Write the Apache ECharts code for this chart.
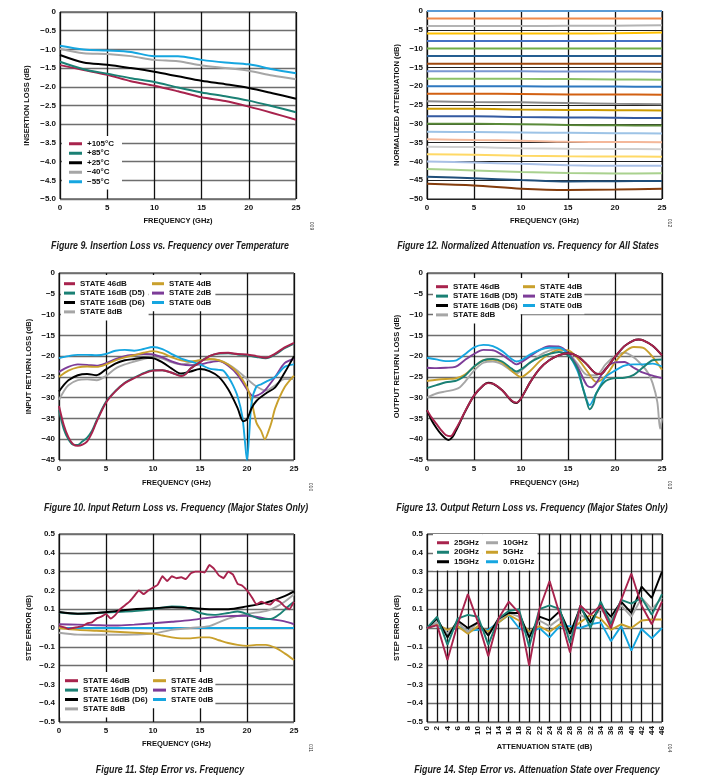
<!DOCTYPE html>
<html><head><meta charset="utf-8">
<script src="https://cdn.jsdelivr.net/npm/echarts@6/dist/echarts.min.js"></script>
<style>html,body{margin:0;padding:0;background:#fff}#c{width:701px;height:778px}</style>
</head><body><div id="c"></div>
<script>
// ---------- DATA ----------
// Fig 9: Insertion loss vs frequency over temperature
const ilFreq = [0, 2.5, 5, 7.5, 10, 12.5, 15, 17.5, 20, 22.5, 25];
const ilNames = ['+105°C', '+85°C', '+25°C', '−40°C', '−55°C'];
const il105 = [-1.42, -1.55, -1.68, -1.85, -1.97, -2.12, -2.28, -2.38, -2.53, -2.70, -2.88];
const il85  = [-1.33, -1.53, -1.65, -1.77, -1.87, -2.02, -2.15, -2.25, -2.37, -2.52, -2.68];
const il25  = [-1.15, -1.35, -1.41, -1.50, -1.60, -1.72, -1.84, -1.93, -2.03, -2.17, -2.32];
const ilM40 = [-0.98, -1.10, -1.12, -1.18, -1.28, -1.32, -1.43, -1.50, -1.57, -1.70, -1.80];
const ilM55 = [-0.90, -1.00, -1.03, -1.07, -1.18, -1.18, -1.28, -1.35, -1.40, -1.53, -1.64];

// Fig 12: Normalized attenuation, all states (values at naFreq)
const naFreq = [0, 5, 10, 15, 20, 25];
const naStates = [0,2,4,6,8,10,12,14,16,18,20,22,24,26,28,30,32,34,36,38,40,42,44,46];
const naRows = [
  [0, 0, 0, 0, 0, 0],
  [-2, -2, -2, -2, -2, -2],
  [-4, -4, -4, -3.95, -3.9, -3.8],
  [-6, -6, -6, -6, -5.95, -5.75],
  [-8, -8, -8, -8, -8, -8],
  [-10, -10, -10, -10, -10, -10],
  [-12, -12, -12, -12, -12, -12],
  [-14, -14, -14, -14.05, -14.05, -14.05],
  [-16, -16, -16.05, -16.1, -16.1, -16.15],
  [-18, -18, -18.05, -18.1, -18.2, -18.3],
  [-20, -20, -20, -20.1, -20.1, -20.15],
  [-22, -22, -22.1, -22.2, -22.2, -22.25],
  [-24, -24.2, -24.3, -24.5, -24.7, -24.8],
  [-26, -26, -26.2, -26.3, -26.4, -26.45],
  [-28, -28, -28.2, -28.3, -28.4, -28.45],
  [-30, -30, -30.1, -30.3, -30.4, -30.45],
  [-32.1, -32.2, -32.3, -32.4, -32.5, -32.55],
  [-34.1, -34.3, -34.5, -34.8, -34.85, -34.9],
  [-36.1, -36.2, -36.5, -36.65, -36.7, -36.75],
  [-38.1, -38.2, -38.5, -38.65, -38.7, -38.75],
  [-40.05, -40.3, -40.65, -41, -41.15, -41.15],
  [-42.05, -42.4, -42.8, -43.1, -43.2, -43.15],
  [-44.05, -44.5, -44.95, -45.35, -45.25, -45.2],
  [-45.95, -46.4, -47.25, -47.6, -47.5, -47.3]
];
const naColors = ['#5B9BD5','#F08A4B','#B4B4B4','#FFC000','#4472C4','#70AD47','#255E91','#9E480E',
  '#7A97D2','#8CC168','#2F78C0','#D26012','#8C8C8C','#CC9A00','#335AA1','#5A8A39',
  '#9DC3E6','#F4B89A','#D0D0D0','#FFD966','#A9C0E6','#A9D18E','#1F4E79','#843C0C'];

// Fig 10: Input return loss [freq GHz, dB]
const stNames = ['STATE 46dB', 'STATE 16dB (D5)', 'STATE 16dB (D6)', 'STATE 8dB', 'STATE 4dB', 'STATE 2dB', 'STATE 0dB'];
const irl46 = [[0,-32],[0.5,-36.5],[1,-39.5],[1.5,-41.2],[2,-41.6],[2.5,-41.3],[3,-40.5],[3.5,-38.5],[4,-35.8],[5,-31.2],[6,-28.5],[7,-26.5],[8,-25.3],[9,-24.2],[10,-23.5],[11,-23.4],[12,-24],[13,-24.8],[13.5,-24.3],[14,-23],[15,-21.5],[16,-20],[17,-19.3],[18,-19.2],[19,-19.5],[20,-19.6],[21,-20],[22,-20.4],[23,-19.4],[24,-17.9],[25,-16.8]];
const irlD5 = [[0,-33],[0.5,-37.5],[1,-40],[1.5,-41.3],[2,-41.4],[2.5,-40.5],[3,-39.6],[3.5,-38],[4,-35.5],[5,-31],[6,-28.4],[7,-26.4],[8,-25.2],[9,-24.1],[10,-23.4],[11,-23.4],[12,-24],[13,-24.7],[13.5,-24.2],[14,-23],[15,-21.4],[16,-20],[17,-19.4],[18,-19.3],[19,-19.6],[20,-19.8],[21,-20.2],[22,-20.5],[23,-19.6],[24,-18.1],[25,-17]];
const irlD6 = [[0,-28.5],[0.5,-27],[1,-25.8],[2,-24.6],[3,-24.3],[4,-24.6],[5,-23.2],[6,-21.8],[7,-21],[8,-20.7],[9,-20.4],[10,-20.5],[11,-21.5],[12,-23],[13,-24.2],[14,-23.7],[15,-23.1],[16,-23.6],[17,-25],[18,-28],[19,-32.5],[19.6,-35.7],[20,-35.2],[20.5,-32.5],[21,-30.8],[22,-29],[23,-27.5],[24,-24],[25,-20]];
const irl8  = [[0,-30.5],[0.5,-28.5],[1,-27],[2,-25.8],[3,-25.6],[4,-25.8],[5,-24.8],[6,-23],[7,-22],[8,-21.3],[9,-20.7],[10,-20.3],[11,-20.6],[12,-21.5],[13,-22],[14,-21.5],[15,-21],[16,-20.8],[17,-21],[18,-22],[19,-23.5],[20,-25.5],[21,-27.3],[22,-28.3],[23,-27],[24,-25.5],[25,-25.5]];
const irl4  = [[0,-25],[1,-23.5],[2,-22.7],[3,-22.5],[4,-22.6],[5,-22],[6,-21],[7,-20.3],[8,-19.8],[9,-19.2],[10,-18.8],[11,-19.3],[12,-20.3],[13,-21],[14,-21.3],[15,-21],[16,-20.7],[17,-21],[18,-22],[19,-24],[20,-27.5],[20.5,-31],[21,-36],[21.5,-38],[21.9,-40],[22.3,-38],[22.6,-36],[23,-32.5],[24,-27.5],[25,-24.7]];
const irl2  = [[0,-23.8],[1,-22.6],[2,-22],[3,-22.1],[4,-22.3],[5,-21.7],[6,-20.7],[7,-20],[8,-19.7],[9,-19.5],[10,-19.6],[11,-20.3],[12,-21.3],[13,-22],[14,-22.2],[15,-22],[16,-21.5],[17,-21.2],[18,-22.3],[19,-24.5],[20,-28],[20.7,-29.7],[21.5,-29],[22,-28],[23,-25],[24,-21.7],[25,-20.7]];
const irl0  = [[0,-20.5],[1,-20],[2,-19.7],[3,-19.7],[4,-19.8],[5,-19.5],[6,-18.7],[7,-18.5],[8,-18.7],[9,-18.3],[10,-17.8],[11,-18.3],[12,-19.5],[13,-20.6],[14,-21.3],[15,-22],[16,-23],[17,-23.3],[17.5,-23.5],[18,-25],[18.5,-27],[19,-29.7],[19.5,-34.5],[19.8,-41],[20,-45],[20.2,-40],[20.5,-31],[21,-27.3],[21.5,-26.8],[22,-26.2],[23,-25],[24,-22.6],[25,-22]];

// Fig 13: Output return loss [freq GHz, dB]
const orl46 = [[0,-33],[0.5,-34.8],[1,-36.3],[1.5,-37.8],[2,-39],[2.5,-39.3],[3,-37.8],[3.5,-35.8],[4,-33.5],[5,-29.5],[6,-27],[6.5,-26.5],[7,-26.6],[8,-28.2],[9,-30.7],[9.5,-31.2],[10,-30.2],[11,-26.2],[12,-23],[13,-21],[14,-19.8],[15,-19.3],[16,-20],[17,-22],[18,-24.2],[18.5,-24.3],[19,-23.2],[20,-20.2],[21,-17.6],[22,-16.2],[22.5,-16],[23,-16.2],[24,-17.5],[25,-19.8]];
const orlD6 = [[0,-33],[0.5,-35.5],[1,-37.3],[1.5,-38.8],[2,-39.9],[2.3,-40.2],[2.7,-39.5],[3,-38.3],[3.5,-36],[4,-33.6],[5,-29.5],[6,-27],[6.5,-26.4],[7,-26.6],[8,-28.2],[9,-30.8],[9.5,-31.3],[10,-30.2],[11,-26.2],[12,-23],[13,-21],[14,-19.8],[15,-19.3],[16,-20],[17,-22],[18,-24.2],[18.5,-24.3],[19,-23.2],[20,-20.2],[21,-17.6],[22,-16.2],[22.5,-16],[23,-16.2],[24,-17.5],[25,-19.8]];
const orlD5 = [[0,-27.7],[1,-27],[2,-26.3],[3,-26],[3.5,-25.5],[4,-24.8],[5,-22.5],[6,-21],[7,-20.7],[8,-21.3],[9,-23],[9.5,-23.7],[10,-23.2],[11,-21.5],[12,-20.3],[13,-19.5],[14,-19],[15,-19.8],[16,-23],[16.5,-27],[17,-31],[17.3,-32.8],[17.7,-31.5],[18,-29],[19,-26],[20,-25.3],[21,-25.2],[22,-24.5],[23,-22.7],[24,-21],[25,-20.8]];
const orl8  = [[0,-30],[1,-29],[2,-28.5],[3,-28],[3.5,-27.5],[4,-26.3],[5,-23.5],[6,-21.6],[7,-21.3],[8,-22],[9,-23.6],[9.5,-24.2],[10,-23.5],[11,-21.5],[12,-19.8],[13,-18.7],[14,-18.2],[15,-19.2],[16,-21.8],[17,-24.5],[18,-24.6],[19,-22],[20,-20],[21,-19.2],[22,-20.3],[23,-22.5],[23.5,-24],[24,-26.5],[24.5,-31],[24.8,-37.5],[25,-35]];
const orl4  = [[0,-26],[1,-25.7],[2,-25.5],[3,-25.4],[4,-24.5],[5,-22.6],[6,-21],[7,-20.8],[8,-21.5],[9,-23.5],[10,-25],[11,-23.5],[12,-21.2],[13,-19.5],[14,-18.5],[15,-18.6],[16,-20.5],[17,-23.5],[18,-26.2],[19,-24.8],[20,-21.5],[21,-19],[22,-17.8],[23,-18],[24,-20.2],[25,-23.3]];
const orl2  = [[0,-22.8],[1,-22.9],[2,-22.8],[3,-22.6],[4,-21],[5,-19.5],[6,-18.5],[7,-18.6],[8,-19.7],[9,-21.3],[9.5,-22],[10,-21.5],[11,-20],[12,-18.5],[13,-17.6],[14,-17.7],[15,-19.2],[16,-22.5],[17,-27],[17.5,-27.5],[18,-26.5],[19,-23],[20,-21.5],[21,-21.4],[22,-22.8],[23,-24],[24,-24.7],[25,-25.3]];
const orl0  = [[0,-20.4],[1,-20.8],[2,-21.2],[3,-21.1],[4,-19.6],[5,-17.9],[6,-17.3],[7,-17.6],[8,-18.8],[9,-20.7],[9.5,-21.3],[10,-21],[11,-19.6],[12,-18.5],[13,-18],[14,-18],[15,-19.5],[16,-23.5],[16.7,-28.5],[17.3,-31.8],[18,-29],[19,-25],[20,-23.5],[21,-22.3],[22,-22],[23,-22],[24,-21.8],[25,-22.5]];

// Fig 11: Step error vs frequency [freq GHz, dB]
const se46 = [[0,0.01],[0.5,0.005],[1,-0.005],[1.5,0],[2,0.005],[2.5,0.01],[3,0.025],[3.5,0.03],[4,0.05],[4.5,0.06],[5,0.075],[5.5,0.05],[6,0.07],[6.5,0.1],[7,0.12],[7.5,0.14],[8,0.17],[8.5,0.2],[9,0.18],[9.5,0.2],[10,0.215],[10.5,0.23],[11,0.275],[11.5,0.25],[12,0.275],[12.5,0.265],[13,0.27],[13.5,0.26],[14,0.29],[14.5,0.3],[15,0.3],[15.5,0.295],[16,0.335],[16.5,0.315],[17,0.28],[17.5,0.265],[18,0.3],[18.5,0.285],[19,0.235],[19.5,0.225],[20,0.2],[20.5,0.165],[21,0.125],[21.5,0.14],[22,0.13],[22.5,0.125],[23,0.15],[23.5,0.14],[24,0.115],[24.5,0.1],[25,0.14]];
const seD5 = [[0,0.084],[2,0.076],[4,0.08],[6,0.085],[8,0.09],[10,0.1],[12,0.115],[13.5,0.11],[15,0.08],[16.5,0.07],[18,0.08],[19,0.088],[20,0.075],[21.5,0.048],[22.5,0.048],[23.5,0.075],[24.5,0.12],[25,0.14]];
const seD6 = [[0,0.085],[2,0.076],[4,0.08],[6,0.09],[8,0.1],[10,0.105],[12,0.11],[14,0.106],[16,0.1],[18,0.1],[20,0.115],[22,0.135],[24,0.17],[25,0.195]];
const se8  = [[0,-0.025],[2,-0.035],[4,-0.036],[6,-0.036],[8,-0.035],[10,-0.03],[12,-0.01],[14,0],[16,0.01],[17,0.03],[18,0.05],[20,0.075],[22,0.09],[23,0.11],[24,0.14],[25,0.18]];
const se4  = [[0,0],[2,-0.01],[4,-0.015],[6,-0.02],[8,-0.025],[10,-0.03],[11,-0.04],[12,-0.05],[13,-0.055],[14,-0.055],[15,-0.05],[16,-0.05],[17,-0.065],[18,-0.08],[19,-0.09],[20,-0.095],[21,-0.09],[22,-0.09],[23,-0.105],[24,-0.135],[25,-0.17]];
const se2  = [[0,0.02],[2,0.018],[4,0.015],[6,0.013],[8,0.018],[10,0.025],[12,0.033],[14,0.042],[16,0.055],[18,0.063],[20,0.065],[22,0.05],[24,0.035],[25,0.02]];
const se0  = [[0,0],[25,0]];

// Fig 14: Step error vs attenuation state
const asStates = [0,2,4,6,8,10,12,14,16,18,20,22,24,26,28,30,32,34,36,38,40,42,44,46];
const asNames = ['25GHz', '20GHz', '15GHz', '10GHz', '5GHz', '0.01GHz'];
const as25  = [0,0.015,-0.17,0.02,0.18,0.03,-0.15,0.05,0.14,0.08,-0.2,0.1,0.25,0.07,-0.13,0.12,0.07,0.12,0,0.15,0.29,0.12,0.02,0.14];
const as20  = [0,0.06,-0.09,0.05,0.07,0.06,-0.09,0.05,0.09,0.1,-0.1,0.1,0.12,0.1,-0.08,0.12,0,0.14,0.02,0.15,0.13,0.16,0.07,0.18];
const as15  = [0,0.05,-0.05,0.04,0,0.03,-0.04,0.05,0.08,0.08,-0.05,0.06,0.04,0.09,-0.03,0.11,0.03,0.12,0.06,0.14,0.08,0.22,0.16,0.3];
const as10  = [0,0.03,-0.03,0.03,-0.02,0.03,-0.04,0.04,0.08,0.06,-0.04,0.04,0.01,0.05,-0.04,0.07,0.04,0.1,0.04,0.12,0.06,0.16,0.1,0.16];
const as5   = [0,0.02,-0.01,0.01,-0.03,0.01,-0.02,0.03,0.07,0.04,-0.02,0.01,-0.02,0.02,-0.01,0.03,0.07,0.05,-0.01,0.02,0,0.04,0.045,0.045];
const as001 = [0,0.02,-0.03,0.01,-0.015,-0.01,-0.01,0.03,0.07,0,-0.03,0,-0.05,0.01,0.01,0,0.02,0.03,-0.07,0.01,-0.12,-0.005,-0.055,0];

const captions = ['Figure 9. Insertion Loss vs. Frequency over Temperature',
  'Figure 12. Normalized Attenuation vs. Frequency for All States',
  'Figure 10. Input Return Loss vs. Frequency (Major States Only)',
  'Figure 13. Output Return Loss vs. Frequency (Major States Only)',
  'Figure 11. Step Error vs. Frequency',
  'Figure 14. Step Error vs. Attenuation State over Frequency'];
const figCodes = ['009', '012', '010', '013', '011', '014'];

// ---------- STYLE / LAYOUT ----------
const FONT = '"Liberation Sans", Arial, sans-serif';
const COL = {r:'#A8234D', t:'#1A8074', k:'#000000', g:'#A6A6A6', c:'#16A6E0', y:'#C9A02C', p:'#7D3C98'};
const stColors = [COL.r, COL.t, COL.k, COL.g, COL.y, COL.p, COL.c];
const ilColors = [COL.r, COL.t, COL.k, COL.g, COL.c];
const asColors = [COL.r, COL.t, COL.k, COL.g, COL.y, COL.c];

const grids = [
  {left:60, top:12, width:236, height:187},
  {left:427, top:11, width:235, height:188},
  {left:59, top:273, width:235, height:187},
  {left:427, top:273, width:235, height:187},
  {left:59, top:534, width:235, height:188},
  {left:427, top:534, width:235, height:188}
].map(g => Object.assign({show:true, borderColor:'#1a1a1a', borderWidth:1, backgroundColor:'#fff'}, g));

function fmt(d) {
  return v => {
    if (Math.abs(v) < 1e-9) return '0';
    return (v < 0 ? '\u2212' : '') + Math.abs(v).toFixed(d);
  };
}
const lblStyle = {fontSize:8, fontWeight:'bold', fontFamily:FONT, color:'#111'};
const nameStyle = {fontSize:7.5, fontWeight:'bold', fontFamily:FONT, color:'#111'};

function xAx(i, max, interval, name, extra) {
  return Object.assign({
    type:'value', gridIndex:i, min:0, max:max, interval:interval,
    name:name, nameLocation:'middle', nameGap:19, nameTextStyle:nameStyle,
    axisLabel:Object.assign({margin:5}, lblStyle),
    axisTick:{show:false}, axisLine:{show:false},
    splitLine:{show:true, lineStyle:{color:'#111', width:1.3}}
  }, extra || {});
}
function yAx(i, min, interval, dec, name, gap, splitColor, splitWidth) {
  const max = (min < -1) ? 0 : (min === -5 ? 0 : 0.5);
  return {
    type:'value', gridIndex:i, min:min, max:max, interval:interval,
    name:name, nameLocation:'middle', nameGap:gap, nameTextStyle:nameStyle,
    axisLabel:Object.assign({margin:4, formatter:fmt(dec)}, lblStyle),
    axisTick:{show:false}, axisLine:{show:false},
    splitLine:{show:true, lineStyle:{color:splitColor, width:splitWidth}}
  };
}

const xAxis = [
  xAx(0, 25, 5, 'FREQUENCY (GHz)', {nameGap:18}),
  xAx(1, 25, 5, 'FREQUENCY (GHz)', {nameGap:18}),
  xAx(2, 25, 5, 'FREQUENCY (GHz)'),
  xAx(3, 25, 5, 'FREQUENCY (GHz)'),
  xAx(4, 25, 5, 'FREQUENCY (GHz)', {nameGap:18}),
  xAx(5, 46, 2, 'ATTENUATION STATE (dB)', {nameGap:21, axisLabel:Object.assign({margin:4, rotate:90}, lblStyle)})
];
const yAxis = [
  yAx(0, -5, 0.5, 1, 'INSERTION LOSS (dB)', 29, '#6e6e6e', 1.4),
  yAx(1, -50, 5, 0, 'NORMALIZED ATTENUATION (dB)', 26, '#222', 1),
  yAx(2, -45, 5, 0, 'INPUT RETURN LOSS (dB)', 26, '#6e6e6e', 1.4),
  yAx(3, -45, 5, 0, 'OUTPUT RETURN LOSS (dB)', 26, '#6e6e6e', 1.4),
  yAx(4, -0.5, 0.1, 1, 'STEP ERROR (dB)', 26, '#6e6e6e', 1.4),
  yAx(5, -0.5, 0.1, 1, 'STEP ERROR (dB)', 26, '#6e6e6e', 1.4)
];

function ln(name, color, data, gi, opts) {
  return Object.assign({
    type:'line', name:name, xAxisIndex:gi, yAxisIndex:gi, data:data,
    showSymbol:false, symbol:'none', smooth:0.3, animation:false,
    lineStyle:{color:color, width:1.9}, itemStyle:{color:color}, z:3
  }, opts || {});
}
const zip = (xs, ys) => xs.map((x, k) => [x, ys[k]]);

const series = [];
// Fig 9
[il105, il85, il25, ilM40, ilM55].forEach((arr, k) => series.push(ln(ilNames[k], ilColors[k], zip(ilFreq, arr), 0, {lineStyle:{color:ilColors[k], width:2}})));
// Fig 12
naRows.forEach((row, k) => series.push(ln('NA ' + naStates[k], naColors[k], zip(naFreq, row), 1, {lineStyle:{color:naColors[k], width:2}})));
// Fig 10
const irl = [irl46, irlD5, irlD6, irl8, irl4, irl2, irl0];
const irlOrder = [3, 5, 4, 6, 2, 1, 0];
irlOrder.forEach(k => series.push(ln(stNames[k], stColors[k], irl[k], 2)));
// Fig 13
const orl = [orl46, orlD5, orlD6, orl8, orl4, orl2, orl0];
const orlOrder = [3, 4, 5, 6, 1, 2, 0];
orlOrder.forEach(k => series.push(ln(stNames[k], stColors[k], orl[k], 3)));
// Fig 11
const se = [se46, seD5, seD6, se8, se4, se2, se0];
const seOrder = [6, 3, 4, 5, 1, 2, 0];
seOrder.forEach(k => series.push(ln(stNames[k], stColors[k], se[k], 4, {smooth: k === 0 ? 0.1 : 0.3})));
// Fig 14
const asv = [as25, as20, as15, as10, as5, as001];
[5, 4, 3, 2, 1, 0].forEach(k => series.push(ln(asNames[k], asColors[k], zip(asStates, asv[k]), 5, {smooth:false})));

function lg(names, left, top, pad, iw, gap) {
  return {
    data:names, orient:'vertical', left:left, top:top, icon:'rect',
    itemWidth:iw || 12, itemHeight:3, itemGap:0, padding:pad,
    backgroundColor:'#fff', selectedMode:false, z:10,
    textStyle:{fontSize:8, fontWeight:'bold', fontFamily:FONT, color:'#111', lineHeight:gap || 9.4}
  };
}
const legend = [
  lg(ilNames, 62, 136, [3, 8, 3, 7], 13, 9.5),
  lg(stNames.slice(0, 4), 61, 275, [4, 4, 4, 3], 11),
  lg(stNames.slice(4), 149, 275, [4, 4, 4, 3], 12),
  lg(stNames.slice(0, 4), 433, 278, [4, 3, 4, 3], 12),
  lg(stNames.slice(4), 520, 278, [4, 2, 4, 3], 12),
  lg(stNames.slice(0, 4), 60, 672, [4, 3, 4, 5], 13),
  lg(stNames.slice(4), 150, 672, [4, 2, 4, 3], 13),
  lg(asNames.slice(0, 3), 433, 534, [4, 4, 4, 4], 12, 9.5),
  lg(asNames.slice(3), 483, 534, [4, 3, 4, 3], 12, 9.5)
];

const capPos = [[170, 246], [528, 246], [176, 508], [532, 508], [170, 770], [537, 770]];
const codePos = [[311, 226], [669, 223], [310, 487], [669, 485], [310, 748], [669, 748]];
const graphic = [];
captions.forEach((t, k) => graphic.push({
  type:'text', x:capPos[k][0], y:capPos[k][1], z:20, scaleX:0.84, scaleY:1,
  style:{text:t, fill:'#1a1a1a', align:'center', verticalAlign:'middle',
    font:'italic bold 10.5px "Liberation Sans", Arial, sans-serif'}
}));
figCodes.forEach((t, k) => graphic.push({
  type:'text', x:codePos[k][0], y:codePos[k][1], rotation:-Math.PI / 2, z:20,
  style:{text:t, fill:'#333', align:'center', verticalAlign:'middle', font:'5px "Liberation Sans", Arial, sans-serif'}
}));

const chart = echarts.init(document.getElementById('c'), null, {renderer:'canvas'});
chart.setOption({
  backgroundColor:'#fff', animation:false,
  grid:grids, xAxis:xAxis, yAxis:yAxis, series:series, legend:legend, graphic:graphic
});
</script></body></html>
